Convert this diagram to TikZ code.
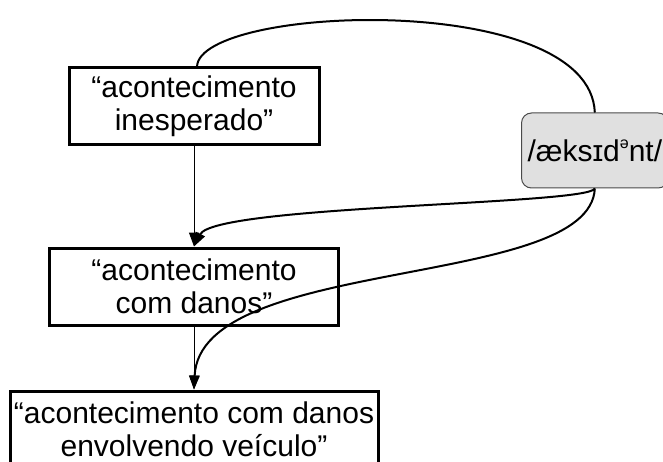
\documentclass[tikz,border=0pt]{standalone}
\usepackage{fontspec}
\setmainfont{Liberation Sans}
\usetikzlibrary{arrows.meta}
\definecolor{pillfill}{HTML}{E0E0E0}
\definecolor{pillline}{HTML}{4A4A4A}
\tikzset{
  sensebox/.style={draw=black, line width=3pt, inner sep=0pt, align=center,
    minimum height=77pt, font=\fontsize{30}{33}\selectfont},
  pill/.style={draw=pillline, line width=1pt, fill=pillfill, rounded corners=10pt,
    inner sep=6pt, minimum height=75pt, font=\fontsize{30}{33}\selectfont},
  link/.style={line width=2pt},
  thinarrow/.style={line width=1pt, -{Triangle[length=14pt,width=10pt]}},
  curvearrow/.style={line width=2pt, -{Triangle[length=14pt,width=10pt]}}
}
\begin{document}
\begin{tikzpicture}[x=1pt, y=-1pt]
\clip (0,0) rectangle (663,462);
\node[sensebox, minimum width=250pt] (b1) at (194,106.5) {“acontecimento\\inesperado”};
\node[sensebox, minimum width=289pt] (b2) at (194,286.5) {“acontecimento\\com danos”};
\node[sensebox, minimum width=368pt] (b3) at (194,429.5) {“acontecimento com danos\\envolvendo veículo”};
\node[pill, anchor=west] (p) at (521,150.5) {/æksɪd\raisebox{0.42em}{\fontsize{16}{16}\selectfont ə}nt/};
\coordinate (b1top) at ([xshift=3pt]b1.north);
\draw[link] (b1top) .. controls (200,5) and (590,-10) .. (p.north);
\draw[thinarrow] (b1.south) -- (b2.north);
\draw[thinarrow] (b2.south) -- (b3.north);
\draw[curvearrow] (p.south) .. controls (588,205) and (215,205) .. (b2.north);
\draw[curvearrow] (p.south) .. controls (590,290) and (200,255) .. (b3.north);
\end{tikzpicture}
\end{document}
